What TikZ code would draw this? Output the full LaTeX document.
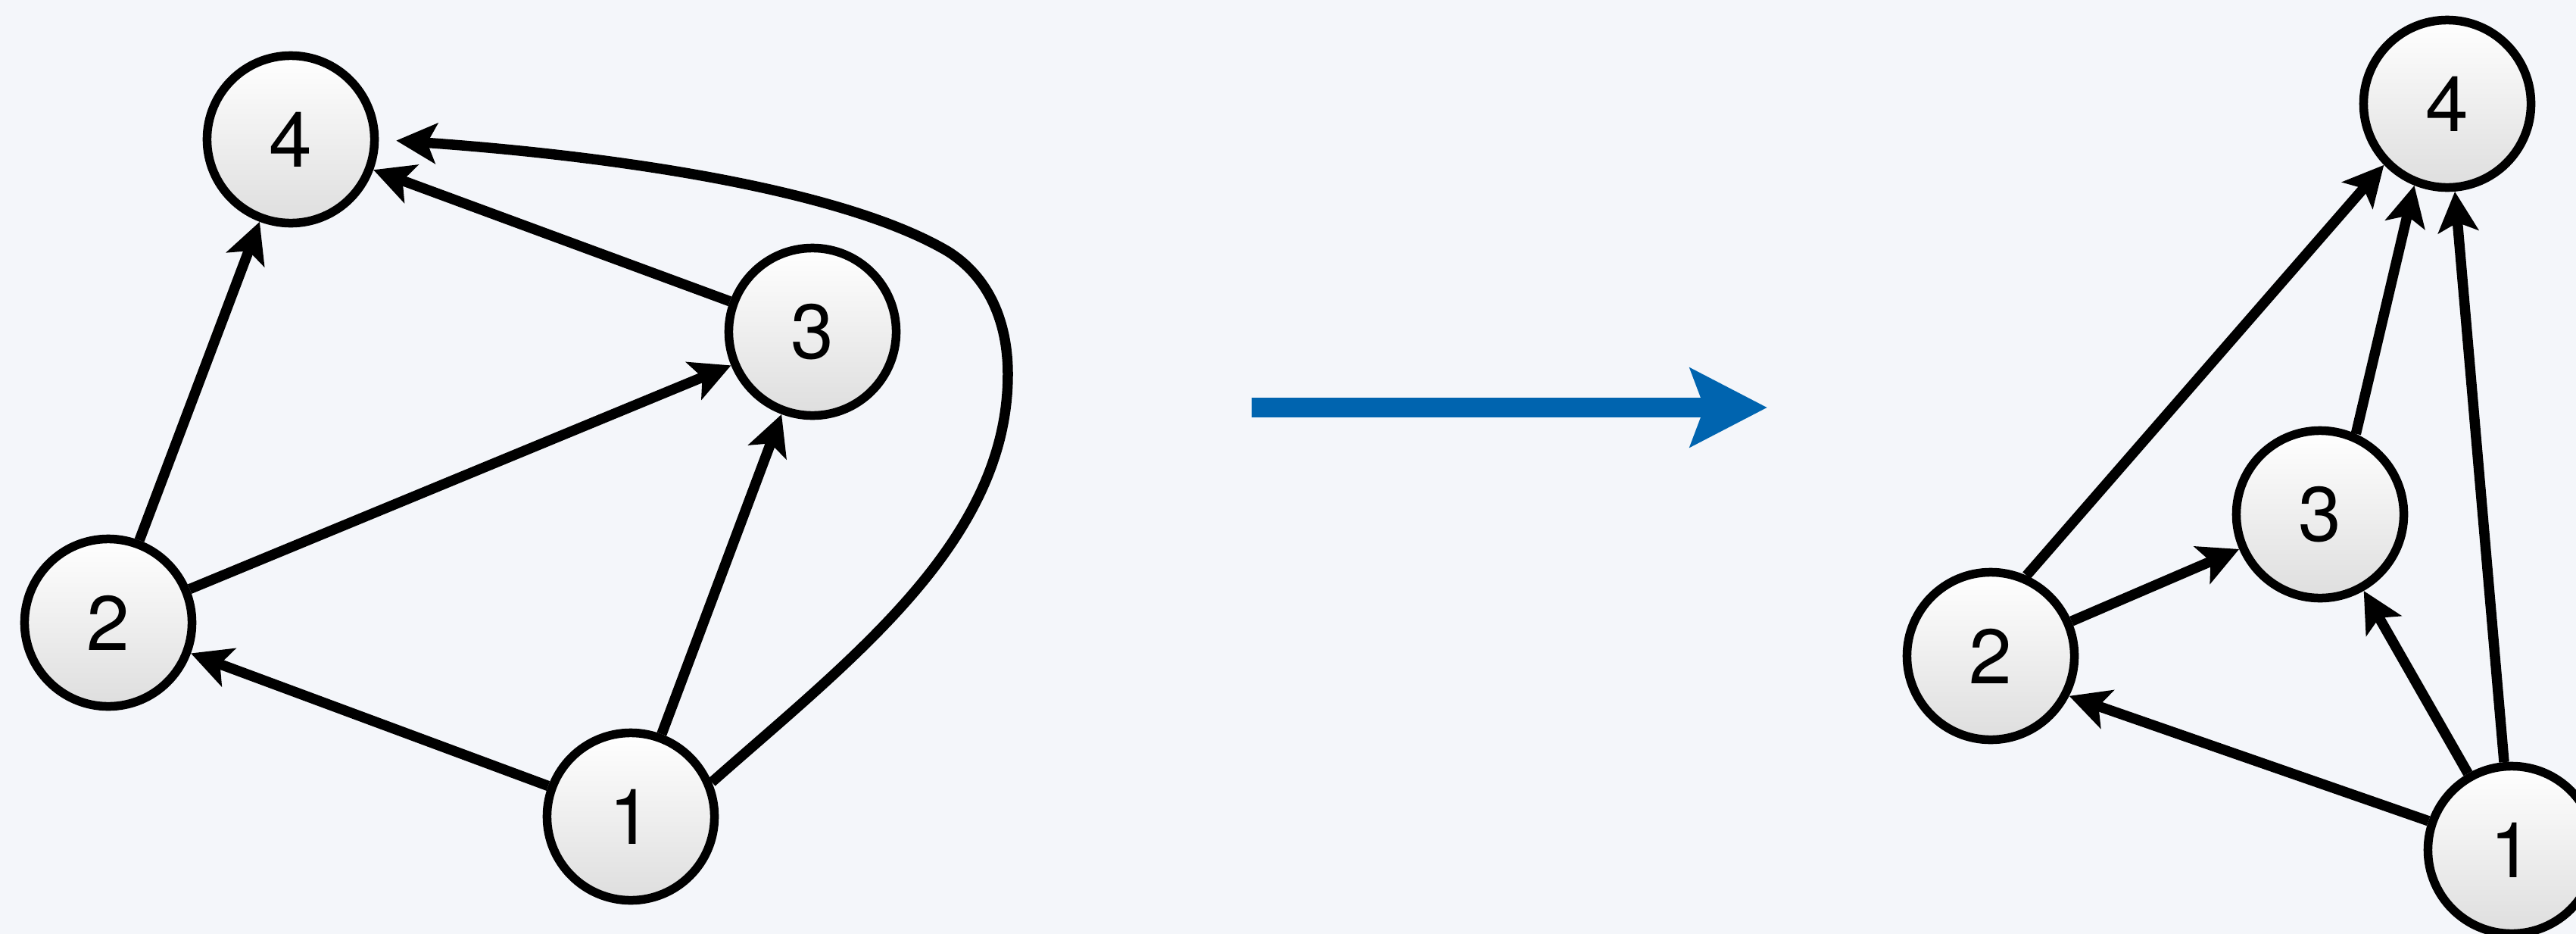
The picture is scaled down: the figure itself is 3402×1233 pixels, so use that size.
\documentclass[tikz,border=0pt]{standalone}
\usepackage{fontspec}
\setmainfont{TeX Gyre Heros}
\usetikzlibrary{arrows.meta}
\definecolor{bgcol}{HTML}{F4F6FA}
\definecolor{arrowblue}{HTML}{0064AF}
\begin{document}
\begin{tikzpicture}[x=0.01cm,y=-0.01cm,
  vert/.style={circle, draw=black, line width=0.115cm, minimum size=2.21cm, inner sep=0pt,
    top color=white, bottom color=black!13, font=\fontsize{29}{35}\selectfont},
  edge/.style={line width=0.135cm, -{Stealth[length=0.53cm, width=0.53cm, inset=0.12cm]}},
  bigarrow/.style={line width=0.26cm, draw=arrowblue, -{Stealth[length=1.01cm, width=1.02cm, inset=0.18cm, fill=arrowblue]}}
]
\fill[bgcol] (0,0) rectangle (3402,1233);
\useasboundingbox (0,0) rectangle (3402,1233);
% left graph
\node[vert] (a4) at (384,184) {4};
\node[vert] (a3) at (1073,438) {3};
\node[vert] (a2) at (143,822) {2};
\node[vert] (a1) at (833,1078) {1};
\draw[edge] (a1) -- (a2);
\draw[edge] (a1) -- (a3);
\draw[edge] (a2) -- (a3);
\draw[edge] (a2) -- (a4);
\draw[edge] (a3) -- (a4);
\draw[edge, shorten >=0.23cm] (a1.23) .. controls (1125,869) and (1331,714) .. (1331,494)
  .. controls (1331,425) and (1306,366) .. (1252,332)
  .. controls (1110,248) and (800,205) .. (a4.east);
% big arrow
\coordinate (bs) at (1653,538);
\coordinate (be) at (2334,538);
\draw[bigarrow] (bs) -- (be);
% right graph
\node[vert] (b4) at (3232,137) {4};
\node[vert] (b3) at (3064,679) {3};
\node[vert] (b2) at (2629,866) {2};
\node[vert] (b1) at (3317,1122) {1};
\draw[edge] (b1) -- (b2.333);
\draw[edge] (b1) -- (b3);
\draw[edge] (b1) -- (b4);
\draw[edge] (b2) -- (b3);
\draw[edge] (b2.66) -- (b4.224);
\draw[edge] (b3.66) -- (b4.248);
\end{tikzpicture}
\end{document}
